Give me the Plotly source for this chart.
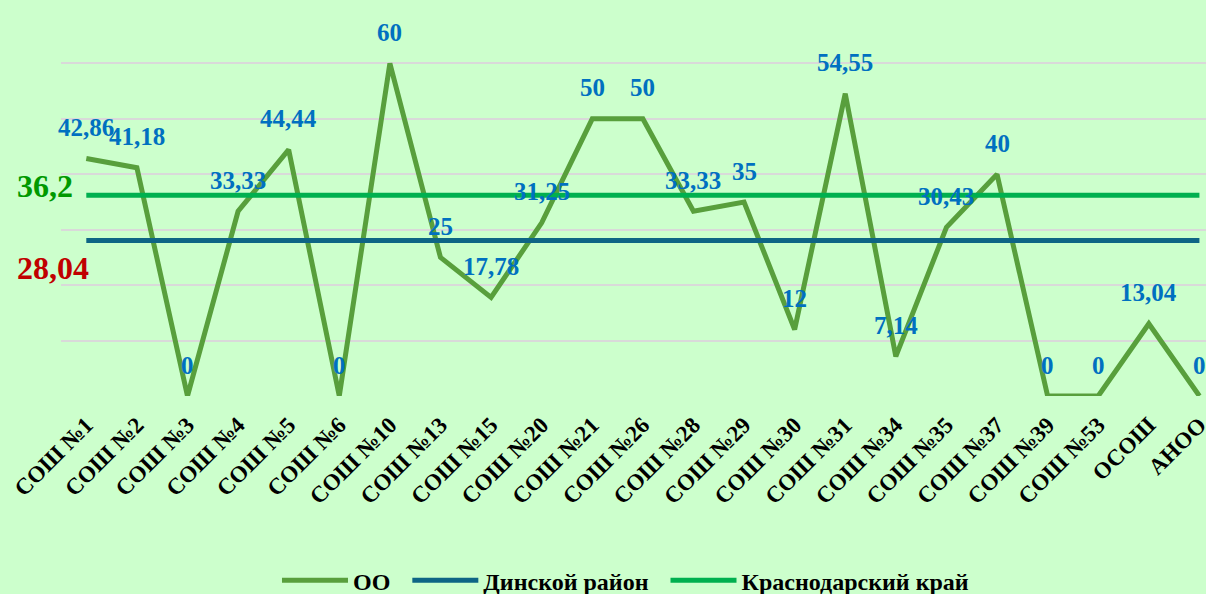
import plotly.graph_objects as go

categories = ["СОШ №1", "СОШ №2", "СОШ №3", "СОШ №4", "СОШ №5", "СОШ №6", "СОШ №10",
              "СОШ №13", "СОШ №15", "СОШ №20", "СОШ №21", "СОШ №26", "СОШ №28", "СОШ №29",
              "СОШ №30", "СОШ №31", "СОШ №34", "СОШ №35", "СОШ №37", "СОШ №39", "СОШ №53",
              "ОСОШ", "АНОО"]
oo_values = [42.86, 41.18, 0, 33.33, 44.44, 0, 60, 25, 17.78, 31.25, 50, 50, 33.33, 35,
             12, 54.55, 7.14, 30.43, 40, 0, 0, 13.04, 0]
district_value = 28.04
region_value = 36.2

FONT = "Liberation Serif"
PAD = "\u00a0\u00a0"

def fmt(v):
    s = ("%.2f" % v).rstrip("0").rstrip(".")
    return s.replace(".", ",")

fig = go.Figure()
fig.add_trace(go.Scatter(x=categories, y=oo_values, mode="lines", name="ОО" + PAD,
                         line=dict(color="#589F3C", width=5), cliponaxis=False))
fig.add_trace(go.Scatter(x=categories, y=[district_value] * len(categories), mode="lines",
                         name="Динской район" + PAD, line=dict(color="#0E6585", width=5),
                         cliponaxis=False))
fig.add_trace(go.Scatter(x=categories, y=[region_value] * len(categories), mode="lines",
                         name="Краснодарский край", line=dict(color="#00B04F", width=5),
                         cliponaxis=False))

annotations = []
for c, v in zip(categories, oo_values):
    annotations.append(dict(x=c, y=v, xref="x", yref="y", text=fmt(v), showarrow=False,
                            yshift=31, font=dict(family=FONT, size=25, color="#0070C0",
                                                 weight="bold")))
annotations.append(dict(x=-0.04, y=region_value, xref="paper", yref="y", text=fmt(region_value),
                        showarrow=False, xanchor="left", yshift=9,
                        font=dict(family=FONT, size=32, color="#009900", weight="bold")))
annotations.append(dict(x=-0.04, y=district_value, xref="paper", yref="y",
                        text=fmt(district_value), showarrow=False, xanchor="left", yshift=-27,
                        font=dict(family=FONT, size=32, color="#C00000", weight="bold")))

fig.update_layout(
    width=1206, height=594,
    paper_bgcolor="#CCFFCC", plot_bgcolor="#CCFFCC",
    margin=dict(l=61, r=0, t=8, b=198, autoexpand=False),
    xaxis=dict(range=[-0.5, 22.13], tickangle=-45, showgrid=False, zeroline=False,
               showline=False, ticks="", ticklabelstandoff=10,
               tickfont=dict(family=FONT, size=23, color="black", weight="bold")),
    yaxis=dict(range=[0, 70], dtick=10, showticklabels=False, showgrid=True,
               gridcolor="#D9D9D9", gridwidth=2, zeroline=False, showline=False),
    legend=dict(orientation="h", x=0.493, xanchor="center", y=-0.476, yanchor="middle",
                itemwidth=66, bgcolor="rgba(0,0,0,0)",
                font=dict(family=FONT, size=24, color="black", weight="bold")),
    annotations=annotations,
    showlegend=True,
)

fig.write_html("out.html", config={"displayModeBar": False},
               post_script="document.body.style.margin='0';document.body.style.overflow='hidden';")
